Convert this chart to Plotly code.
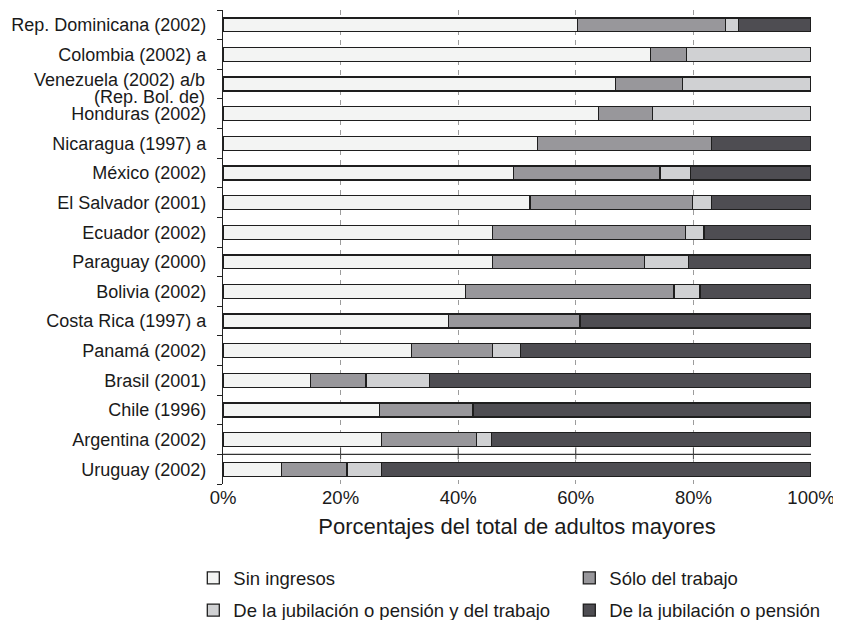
import plotly.graph_objects as go

countries = [
    "Rep. Dominicana (2002)",
    "Colombia (2002) a",
    "Venezuela (2002) a/b",
    "Honduras (2002)",
    "Nicaragua (1997) a",
    "México (2002)",
    "El Salvador (2001)",
    "Ecuador (2002)",
    "Paraguay (2000)",
    "Bolivia (2002)",
    "Costa Rica (1997) a",
    "Panamá (2002)",
    "Brasil (2001)",
    "Chile (1996)",
    "Argentina (2002)",
    "Uruguay (2002)",
]
venezuela_label = "Venezuela (2002) a/b"
venezuela_extra = "(Rep. Bol. de)"

sin_ingresos = [60.3, 72.7, 66.8, 63.9, 53.5, 49.4, 52.2, 45.8, 45.8, 41.2, 38.3, 32.1, 14.9, 26.6, 26.9, 10.0]
solo_trabajo = [25.1, 6.1, 11.4, 9.1, 29.6, 24.9, 27.7, 32.8, 25.9, 35.5, 22.4, 13.7, 9.4, 15.9, 16.2, 11.1]
jub_y_trabajo = [2.3, 21.2, 21.8, 27.0, 0.0, 5.2, 3.2, 3.2, 7.5, 4.4, 0.0, 4.8, 10.8, 0.0, 2.6, 5.8]
jubilacion = [12.3, 0.0, 0.0, 0.0, 16.9, 20.5, 16.9, 18.2, 20.8, 18.9, 39.3, 49.4, 64.9, 57.5, 54.3, 73.1]

series_names = [
    "Sin ingresos",
    "Sólo del trabajo",
    "De la jubilación o pensión y del trabajo",
    "De la jubilación o pensión",
]
series_values = [sin_ingresos, solo_trabajo, jub_y_trabajo, jubilacion]
series_colors = ["#f3f4f3", "#98979b", "#d0d1d3", "#4e4d52"]
series_legend = ["legend", "legend", "legend2", "legend2"]

x_ticks = [0, 20, 40, 60, 80, 100]
x_ticktext = ["0%", "20%", "40%", "60%", "80%", "100%"]
x_title = "Porcentajes del total de adultos mayores"

FONT = "Liberation Sans, Arial, Helvetica, sans-serif"
FS = 18.5
FS_Y = 18

fig = go.Figure()
for name, vals, col, lg in zip(series_names, series_values, series_colors, series_legend):
    fig.add_trace(go.Bar(
        y=countries, x=vals, name=name, orientation="h", legend=lg,
        marker=dict(color=col, line=dict(color="#1e1e1e", width=1.3)),
    ))

legend_common = dict(
    orientation="h", x=-0.0505, xanchor="left", yanchor="top",
    entrywidth=331, entrywidthmode="pixels",
    font=dict(size=FS), traceorder="normal", bgcolor="rgba(0,0,0,0)",
)

# page has an 8px body margin: figure drawn 8px right/down
fig.update_layout(
    width=833, height=612,
    margin=dict(l=215, r=30, t=2, b=136, autoexpand=False),
    barmode="stack", bargap=0.53,
    plot_bgcolor="white", paper_bgcolor="white",
    font=dict(family=FONT, size=FS, color="#1a1a1a"),
    showlegend=True,
    legend=dict(y=-0.159, **legend_common),
    legend2=dict(y=-0.227, **legend_common),
)
fig.update_xaxes(
    range=[0, 100], tickvals=x_ticks, ticktext=x_ticktext,
    showgrid=True, gridcolor="#9c9c9c", griddash="5px,5px", gridwidth=1,
    zeroline=False, showline=False, ticks="", automargin=False,
    title=dict(text=x_title, standoff=12),
)
y_ticktext = ["" if c == venezuela_label else c for c in countries]
fig.update_yaxes(
    type="category", autorange="reversed", automargin=False,
    tickmode="array", tickvals=countries, ticktext=y_ticktext,
    tickfont=dict(size=FS_Y),
    showline=True, linecolor="#222", linewidth=1.3,
    ticks="outside", tickson="boundaries", ticklen=5, tickcolor="#222",
    ticklabelstandoff=12, showgrid=False,
)

# separator between Argentina and Uruguay, with short solid marks at the grid positions
sep_y = countries.index("Argentina (2002)") + 0.5
fig.add_shape(type="line", xref="x", yref="y", x0=x_ticks[0], x1=x_ticks[-1],
              y0=sep_y, y1=sep_y, line=dict(color="#333", width=1.3))
for xv in x_ticks[1:-1]:
    fig.add_shape(type="line", xref="x", yref="y", ysizemode="pixel", yanchor=sep_y,
                  x0=xv, x1=xv, y0=7, y1=-5, line=dict(color="#444", width=1))

# two-line Venezuela label
vi = countries.index(venezuela_label)
fig.add_annotation(
    text=venezuela_label, xref="paper", yref="y", x=-17 / 588, y=vi - 0.14,
    xanchor="right", yanchor="middle", showarrow=False, borderpad=0,
    font=dict(size=FS_Y),
)
fig.add_annotation(
    text=venezuela_extra, xref="paper", yref="y", x=-17 / 588, y=vi + 0.44,
    xanchor="right", yanchor="middle", showarrow=False, borderpad=0,
    font=dict(size=FS_Y),
)

fig.write_html("out.html")
